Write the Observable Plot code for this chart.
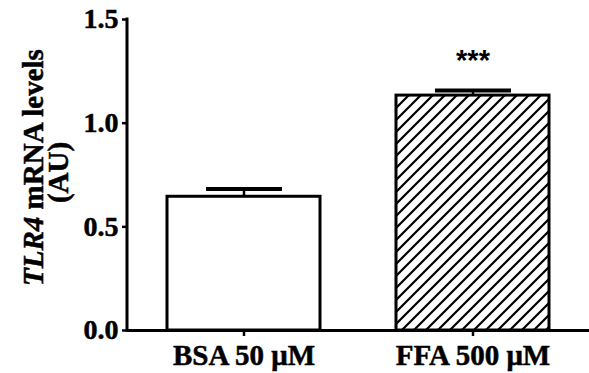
<!DOCTYPE html>
<html><head><meta charset="utf-8">
<script src="https://cdn.jsdelivr.net/npm/d3@7"></script>
<script src="https://cdn.jsdelivr.net/npm/@observablehq/plot@0.6"></script>
<style>body{margin:0;background:#fff} svg{display:block}</style>
</head><body><div id="chart"></div>
<script>
const categories = ["BSA 50 μM", "FFA 500 μM"];
const means = [0.645, 1.133];
const errors = [0.037, 0.024];
const significance = ["", "***"];
const fills = ["white", "url(#hatch)"];
const yTicks = [0, 0.5, 1.0, 1.5];
const titleItalic = "TLR4";
const titleRest = " mRNA levels";
const titleLine2 = "(AU)";

const data = categories.map((c, i) => ({cat: c, mean: means[i], top: means[i] + errors[i], sig: significance[i], fill: fills[i]}));

const serif = "'Liberation Serif', 'Times New Roman', serif";

const defs = () => {
  const d = d3.create("svg:defs");
  const p = d.append("pattern").attr("id", "hatch").attr("patternUnits", "userSpaceOnUse")
    .attr("width", 12).attr("height", 12);
  p.append("rect").attr("width", 12).attr("height", 12).attr("fill", "white");
  p.append("path").attr("d", "M-3,3L3,-3M0,12L12,0M9,15L15,9")
    .attr("stroke", "black").attr("stroke-width", 2.2).attr("stroke-linecap", "square");
  return d.node();
};

const yAxisLine = (index, scales, values, dims) => {
  const g = d3.create("svg:g");
  g.append("line").attr("x1", dims.marginLeft).attr("x2", dims.marginLeft)
    .attr("y1", scales.y(0)).attr("y2", scales.y(1.5))
    .attr("stroke", "black").attr("stroke-width", 3).attr("stroke-linecap", "square");
  return g.node();
};

const yTitle = (index, scales, values, dims) => {
  const g = d3.create("svg:g").attr("font-family", serif).attr("font-weight", "bold")
    .attr("font-size", 29).attr("fill", "black").attr("text-anchor", "middle")
    .attr("stroke", "black").attr("stroke-width", 0.5);
  const cy = (scales.y(0) + scales.y(1.5)) / 2;
  const t1 = g.append("text").attr("transform", `translate(43,${cy - 7}) rotate(-90)`);
  t1.append("tspan").attr("font-style", "italic").text(titleItalic);
  t1.append("tspan").text(titleRest);
  g.append("text").attr("transform", `translate(68,${cy - 2}) rotate(-90)`).text(titleLine2);
  return g.node();
};

const chart = Plot.plot({
  width: 589,
  height: 373,
  marginLeft: 127,
  marginRight: 0,
  marginTop: 19,
  marginBottom: 43,
  style: {fontFamily: serif, fontWeight: "bold", color: "black", background: "white"},
  x: {domain: categories, paddingInner: 0.33, paddingOuter: 0.17, label: null},
  y: {domain: [0, 1.5], label: null},
  marks: [
    defs,
    Plot.barY(data.filter(d => d.fill === fills[0]), {x: "cat", y: "mean", fill: fills[0], stroke: "black", strokeWidth: 3}),
    Plot.barY(data.filter(d => d.fill === fills[1]), {x: "cat", y: "mean", fill: fills[1], stroke: "black", strokeWidth: 3}),
    Plot.ruleX(data, {x: "cat", y1: "mean", y2: "top", stroke: "black", strokeWidth: 2.5}),
    Plot.tickY(data, {x: "cat", y: "top", stroke: "black", strokeWidth: 4, insetLeft: 39, insetRight: 38}),
    Plot.text(data, {x: "cat", y: "top", text: "sig", dy: -30, fontFamily: "'Liberation Sans', Arial, sans-serif", fontWeight: "bold", fontSize: 29}),
    Plot.ruleY([0], {stroke: "black", strokeWidth: 3}),
    yAxisLine,
    Plot.axisY({ticks: yTicks, tickFormat: d3.format(".1f"), tickSize: 5, tickPadding: 4, strokeWidth: 2.5, fontSize: 28, textStroke: "black", textStrokeWidth: 0.5, label: null}),
    Plot.axisX({tickSize: 6, tickPadding: 8, strokeWidth: 2.5, fontSize: 29, textStroke: "black", textStrokeWidth: 0.5, label: null}),
    yTitle
  ]
});
document.getElementById("chart").append(chart);
</script>
</body></html>
